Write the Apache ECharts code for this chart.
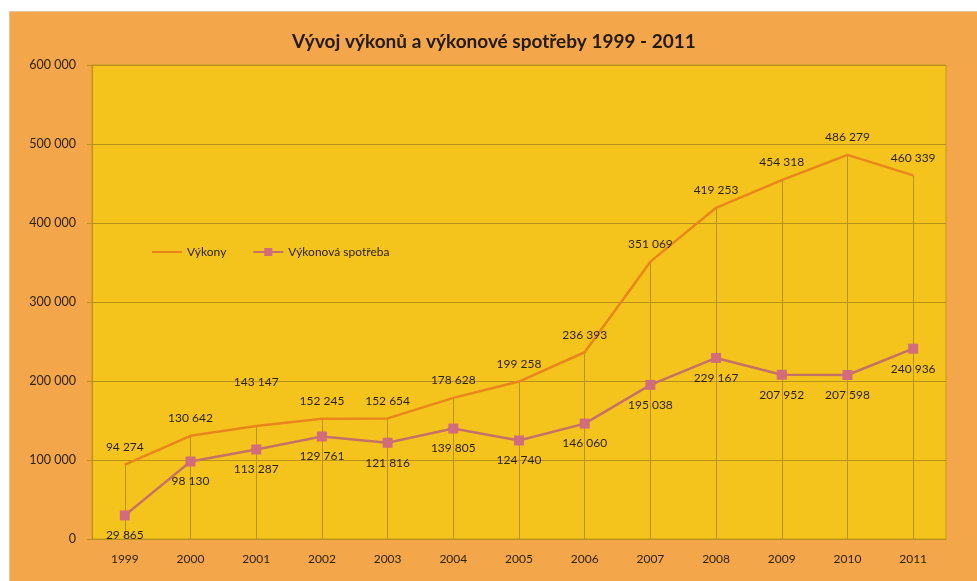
<!DOCTYPE html>
<html>
<head>
<meta charset="utf-8">
<script src="https://cdn.jsdelivr.net/npm/echarts@6/dist/echarts.min.js"></script>
<style>
html,body{margin:0;padding:0;background:#ffffff;width:977px;height:581px;overflow:hidden;}
#frame{position:absolute;left:9px;top:11px;width:968px;height:570px;background:#F4A64A;border-left:1px solid #E6C49A;border-top:1px solid #E6C49A;box-sizing:border-box;}
#chart{position:absolute;left:0;top:0;width:968px;height:570px;}
</style>
</head>
<body>
<div id="frame"><div id="chart"></div></div>
<script>
const years = ['1999','2000','2001','2002','2003','2004','2005','2006','2007','2008','2009','2010','2011'];
const vykony = [94274,130642,143147,152245,152654,178628,199258,236393,351069,419253,454318,486279,460339];
const spotreba = [29865,98130,113287,129761,121816,139805,124740,146060,195038,229167,207952,207598,240936];
const yTicks = [0,100000,200000,300000,400000,500000,600000];
const seriesNames = ['Výkony','Výkonová spotřeba'];
const titleText = 'Vývoj výkonů a výkonové spotřeby 1999 - 2011';
// label distance tweaks (style only)
const vykonyLabelDist = [11,11,37,11,11,11,11,11,11,11,11,11,11];

const fmt = v => String(v).replace(/\B(?=(\d{3})+(?!\d))/g, ' ');
const FONT = 'Lato';
const TXT = '#2e2404';
const GRIDC = '#B8901C';

const chart = echarts.init(document.getElementById('chart'), null, {renderer:'canvas'});
chart.setOption({
  animation:false,
  backgroundColor:'transparent',
  textStyle:{fontFamily:FONT},
  title:{
    text:titleText, left:'center', top:15,
    textStyle:{fontFamily:FONT,fontSize:19,fontWeight:'bold',color:'#221b03'}
  },
  legend:{
    left:141, top:234, padding:0, orient:'horizontal', itemWidth:30, itemHeight:10, itemGap:26,
    textStyle:{fontFamily:FONT,fontSize:12,color:TXT},
    data:[{name:seriesNames[0],itemStyle:{opacity:0}},{name:seriesNames[1]}]
  },
  grid:{
    left:82, right:32, top:53, bottom:43, show:true,
    backgroundColor:'#F5C41C', borderColor:'#C79A1C', borderWidth:1
  },
  xAxis:{
    type:'category', data:years, boundaryGap:true,
    axisLine:{show:true,lineStyle:{color:GRIDC,width:1}},
    axisTick:{show:false},
    axisLabel:{fontFamily:FONT,fontSize:12,color:TXT,margin:14},
    splitLine:{show:false}
  },
  yAxis:{
    type:'value', min:yTicks[0], max:yTicks[yTicks.length-1], interval:yTicks[1]-yTicks[0],
    axisLine:{show:true,lineStyle:{color:GRIDC,width:1}},
    axisTick:{show:true,length:5,lineStyle:{color:GRIDC}},
    axisLabel:{fontFamily:FONT,fontSize:12.5,color:TXT,margin:16,formatter:v=>fmt(v)},
    splitLine:{show:true,lineStyle:{color:GRIDC,width:1.2}}
  },
  series:[
    {
      name:seriesNames[0], type:'line', z:3,
      data:vykony.map((v,i)=>({value:v,label:{distance:vykonyLabelDist[i]}})),
      symbol:'circle', symbolSize:1, showSymbol:true,
      lineStyle:{color:'#E8861C',width:2.5},
      itemStyle:{color:'#E8861C'},
      label:{show:true,position:'top',fontFamily:FONT,fontSize:12,color:TXT,formatter:p=>fmt(p.value)},
      markLine:{
        silent:true, symbol:'none', z:1,
        label:{show:false},
        lineStyle:{color:GRIDC,width:1,type:'solid'},
        data:vykony.map((v,i)=>[{coord:[years[i],v]},{coord:[years[i],0]}])
      }
    },
    {
      name:seriesNames[1], type:'line', z:4,
      data:spotreba,
      symbol:'rect', symbolSize:10,
      lineStyle:{color:'#C47266',width:2.5},
      itemStyle:{color:'#D06C7E'},
      label:{show:true,position:'bottom',distance:9,fontFamily:FONT,fontSize:12,color:TXT,formatter:p=>fmt(p.value)}
    }
  ]
});
</script>
</body>
</html>
